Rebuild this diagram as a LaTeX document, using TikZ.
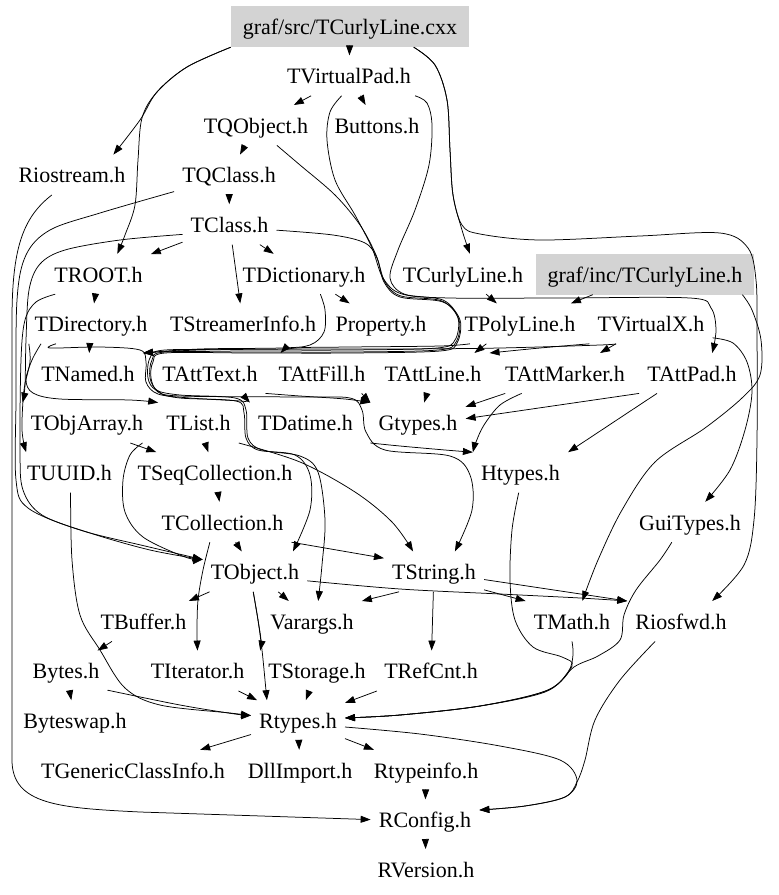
\documentclass[tikz,border=0pt]{standalone}
\usepackage{fontspec}
\setmainfont{Liberation Serif}
\usetikzlibrary{arrows.meta}
\definecolor{boxgray}{RGB}{211,211,211}
\begin{document}
\begin{tikzpicture}[x=1pt,y=-1pt,
  lbl/.style={font={\fontsize{22}{26}\selectfont}, inner xsep=8pt, inner ysep=0pt, minimum height=40pt, text height=20pt, text depth=4pt},
  gbox/.style={lbl, fill=boxgray, minimum height=41pt, inner xsep=0pt},
  e/.style={draw, line width=0.75pt, -{Triangle[length=10pt,width=7pt]}},
  es/.style={e, smooth, tension=0.55}]
\useasboundingbox (0,0) rectangle (779,895);
% nodes
\node[gbox, minimum width=238pt] (cxx) at (350,26.5) {graf/src/TCurlyLine.cxx};
\node[lbl] (vpad) at (349,75.6) {TVirtualPad.h};
\node[lbl] (tqobject) at (256,125.2) {TQObject.h};
\node[lbl] (buttons) at (377,125.2) {Buttons.h};
\node[lbl] (riostream) at (72,174.8) {Riostream.h};
\node[lbl] (tqclass) at (229,174.8) {TQClass.h};
\node[lbl] (tclass) at (229.5,224.4) {TClass.h};
\node[lbl] (troot) at (98.5,274) {TROOT.h};
\node[lbl] (tdict) at (304,274) {TDictionary.h};
\node[lbl] (tcurly) at (463,274) {TCurlyLine.h};
\node[gbox, minimum width=218pt] (ginc) at (645,274) {graf/inc/TCurlyLine.h};
\node[lbl] (tdir) at (91,323.6) {TDirectory.h};
\node[lbl] (tsi) at (243,323.6) {TStreamerInfo.h};
\node[lbl] (property) at (381,323.6) {Property.h};
\node[lbl] (tpoly) at (520,323.6) {TPolyLine.h};
\node[lbl] (tvx) at (651,323.6) {TVirtualX.h};
\node[lbl] (tnamed) at (88,373.2) {TNamed.h};
\node[lbl] (tatttext) at (210,373.2) {TAttText.h};
\node[lbl] (tattfill) at (322,373.2) {TAttFill.h};
\node[lbl] (tattline) at (433,373.2) {TAttLine.h};
\node[lbl] (tattmarker) at (565,373.2) {TAttMarker.h};
\node[lbl] (tattpad) at (692,373.2) {TAttPad.h};
\node[lbl] (tobjarray) at (87,422.8) {TObjArray.h};
\node[lbl] (tlist) at (198.5,422.8) {TList.h};
\node[lbl] (tdatime) at (305.5,422.8) {TDatime.h};
\node[lbl] (gtypes) at (418,422.8) {Gtypes.h};
\node[lbl] (tuuid) at (69.5,472.4) {TUUID.h};
\node[lbl] (tseq) at (215,472.4) {TSeqCollection.h};
\node[lbl] (htypes) at (520.5,472.4) {Htypes.h};
\node[lbl] (tcoll) at (222.5,522) {TCollection.h};
\node[lbl] (guitypes) at (690,522) {GuiTypes.h};
\node[lbl] (tobject) at (255,571.6) {TObject.h};
\node[lbl] (tstring) at (434,571.6) {TString.h};
\node[lbl] (tbuffer) at (143.5,621.2) {TBuffer.h};
\node[lbl] (varargs) at (312,621.2) {Varargs.h};
\node[lbl] (tmath) at (572,621.2) {TMath.h};
\node[lbl] (riosfwd) at (681,621.2) {Riosfwd.h};
\node[lbl] (bytes) at (66,670.8) {Bytes.h};
\node[lbl] (titer) at (197.5,670.8) {TIterator.h};
\node[lbl] (tstorage) at (317,670.8) {TStorage.h};
\node[lbl] (trefcnt) at (431,670.8) {TRefCnt.h};
\node[lbl] (byteswap) at (75,720.4) {Byteswap.h};
\node[lbl] (rtypes) at (298,720.4) {Rtypes.h};
\node[lbl] (tgci) at (133,770) {TGenericClassInfo.h};
\node[lbl] (dllimport) at (300,770) {DllImport.h};
\node[lbl] (rtypeinfo) at (426,770) {Rtypeinfo.h};
\node[lbl] (rconfig) at (425,819.6) {RConfig.h};
\node[lbl] (rversion) at (426,869.2) {RVersion.h};
% top
\draw[e] (cxx) -- (vpad);
\draw[es] plot coordinates {(cxx.south west) (187,67) (157,92) (140,120) (riostream.26)};
\draw[es] plot coordinates {(cxx.south west) (187,67) (157,92) (142,118) (138,160) (135,205) (125,235) (troot.47)};
\draw[es] plot coordinates {(cxx.-18) (435,65) (447,100) (450,150) (453,195) (462,230) (tcurly.71)};
\draw[es] plot coordinates {(cxx.-18) (435,65) (447,100) (450,150) (453,195) (462,225) (480,234) (540,240) (640,236) (720,233) (748,248) (756,280) (757,330) (757,440) (754,520) (744,565) (riosfwd.33)};
\draw[e] (vpad) -- (tqobject);
\draw[e] (vpad) -- (buttons);
\draw[es] plot coordinates {(vpad.-110) (330,112) (327,140) (335,180) (355,215) (372,248) (383,278) (402,294) (450,298) (560,298) (690,298) (711,308) (716,330) (tattpad.45)};
\draw[es] plot coordinates {(vpad.-17) (427,103) (432,125) (429,165) (415,210) (398,250) (390,278) (404,294) (443,300) (458,318) (455,340) (437,348) (350,350) (250,350) (165,350) (150,358) (148,378) (156,390) (180,395) (235,398) (246,410) (248,438) (262,450) (300,456) (318,472) (325,520) (322,565) (varargs.73)};
\draw[es] plot coordinates {(tqobject.-44) (300,165) (335,195) (360,225) (376,255) (385,282) (401,296) (442,301) (459,320) (456,342) (438,350) (350,352) (250,352) (165,352) (152,360) (150,378) (158,391) (180,396) (300,397) (350,398) (362,410) (366,432) (385,450) (450,456) (470,475) (472,510) (tstring.44)};
\draw[es] plot coordinates {(tclass.-7) (333,235) (365,243) (377,258) (384,282) (400,297) (443,302) (460,320) (457,343) (440,351) (350,353) (250,353) (165,353) (153,362) (151,378) (158,392) (180,398) (236,401) (244,413) (246,438) (258,450) (295,455) (310,475) (310,510) (tobject.28)};
\draw[e] (tqobject) -- (tqclass);
\draw[e] (tqclass) -- (tclass);
\draw[e] (tclass) -- (troot);
\draw[e] (tclass) -- (tdict);
\draw[e] (tclass) -- (tsi);
\draw[e] (tdict) -- (property);
\draw[e] (troot) -- (tdir);
\draw[e] (tcurly) -- (tpoly);
\draw[e] (ginc) -- (tpoly);
% middle bundle
\draw[es] plot coordinates {(tdict.-51) (325,310) (324,332) (310,345) (280,348) (200,349) (tnamed.north east)};
\draw[es] plot coordinates {(tvx.-150) (600,345) (500,348) (400,349) (300,349) (200,350) (tnamed.north east)};
\draw[es] plot coordinates {(tvx.south west) (540,348) (tattline.north east)};
\draw[e] (tpoly.-149) -- (tattline.26);
\draw[es] plot coordinates {(tpoly.-158) (440,346) (350,347) (295,348) (tattfill.154)};
\draw[e] (tvx) -- (tattmarker);
% left side
\draw[e] (tdir) -- (tnamed);
\draw[es] plot coordinates {(tdir.-158) (32,360) (26,380) (33,393) (60,399) (130,400) (tlist.north west)};
\draw[es] plot coordinates {(tdir.-150) (50,348) (100,347) (140,350) (146,362) (146,382) (158,394) (190,398) (240,401) (tdatime.north west)};
\draw[es] plot coordinates {(tdir.-162) (30,362) (24,390) (22,430) (tuuid.155)};
\draw[es] plot coordinates {(tclass.192) (120,240) (65,250) (40,264) (29,290) (26,340) (25,385) (tobjarray.north west)};
\draw[es] plot coordinates {(troot.-155) (36,302) (25,320) (21,360) (20,450) (23,490) (42,515) (90,533) (150,550) (tobject.167)};
\draw[es] plot coordinates {(tqclass.197) (100,213) (50,230) (26,255) (17,300) (16,400) (16,480) (28,508) (80,530) (145,546) (tobject.167)};
\draw[e] (riostream.-135) .. controls (22,218) and (12,250) .. (12,320) -- (12,760) .. controls (12,805) and (60,808) .. (140,812) -- (rconfig.west);
% collections
\draw[e] (tlist) -- (tseq);
\draw[e] (tobjarray.-25) -- (tseq.161);
\draw[es] plot coordinates {(tobjarray.-20) (130,455) (123,480) (125,512) (143,537) (185,557) (tobject.167)};
\draw[es] plot coordinates {(tlist.south east) (300,462) (355,492) (392,522) (tstring.136)};
\draw[e] (tseq) -- (tcoll);
\draw[e] (tcoll) -- (tobject);
\draw[es] plot coordinates {(tcoll.-122) (203,570) (198,600) (197,630) (titer.north)};
\draw[e] (tcoll.south east) -- (tstring.165);
% graphics types
\draw[es] plot coordinates {(tatttext.-20) (300,396) (345,399) (gtypes.north west)};
\draw[e] (tattfill.-27) -- (gtypes.north west);
\draw[e] (tattline) -- (gtypes);
\draw[e] (tattmarker) -- (gtypes);
\draw[es] plot coordinates {(tattmarker.-155) (500,405) (484,425) (476,442) (htypes.north west)};
\draw[e] (tattpad.south west) -- (gtypes.5);
\draw[e] (tattpad.-150) -- (htypes.north east);
\draw[es] plot coordinates {(gtypes.south west) (400,446) (445,450) (htypes.north west)};
\draw[es] plot coordinates {(htypes.-95) (512,530) (510,580) (515,620) (533,647) (562,657) (572,666) (548,690) (480,706) (400,715) (rtypes.3)};
\draw[es] plot coordinates {(tmath.south) (573,655) (568,672) (545,692) (480,706) (400,715) (rtypes.3)};
\draw[es] plot coordinates {(guitypes.-132) (660,560) (636,590) (624,615) (620,640) (598,656) (574,667) (548,690) (480,706) (400,715) (rtypes.3)};
\draw[es] plot coordinates {(ginc.-12) (752,310) (761,340) (760,375) (742,398) (705,428) (655,462) (622,510) (598,560) (tmath.63)};
\draw[es] plot coordinates {(tvx.-13) (733,343) (747,362) (752,392) (745,430) (730,470) (guitypes.53)};
% lower part
\draw[e] (tobject) -- (tbuffer);
\draw[e] (tobject) -- (varargs);
\draw[es] plot coordinates {(tobject.-95) (258,620) (261,640) (tstorage.north west)};
\draw[es] plot coordinates {(tobject.-95) (258,620) (262,650) (265,680) (rtypes.147)};
\draw[es] plot coordinates {(tobject.-10) (400,589) (500,594) (580,598) (riosfwd.north west)};
\draw[e] (tstring.-9) -- (riosfwd.north west);
\draw[e] (tstring.-20) -- (tmath.north west);
\draw[e] (tstring) -- (trefcnt);
\draw[e] (tstring.-150) -- (varargs.north east);
\draw[e] (tbuffer) -- (bytes);
\draw[e] (bytes) -- (byteswap);
\draw[es] plot coordinates {(bytes.-25) (180,705) (235,714) (rtypes.174)};
\draw[es] plot coordinates {(tuuid.-87) (72,560) (80,615) (100,650) (125,688) (160,705) (230,713) (rtypes.174)};
\draw[e] (titer) -- (rtypes);
\draw[e] (tstorage) -- (rtypes);
\draw[e] (trefcnt) -- (rtypes);
\draw[e] (rtypes) -- (tgci);
\draw[e] (rtypes) -- (dllimport);
\draw[e] (rtypes) -- (rtypeinfo);
\draw[es] plot coordinates {(rtypes.-8) (420,734) (500,746) (560,760) (577,780) (565,797) (525,806) (rconfig.10)};
\draw[es] plot coordinates {(riosfwd.-142) (620,680) (595,720) (585,760) (577,782) (565,797) (525,806) (rconfig.10)};
\draw[e] (rtypeinfo) -- (rconfig);
\draw[e] (rconfig) -- (rversion);
\end{tikzpicture}
\end{document}
